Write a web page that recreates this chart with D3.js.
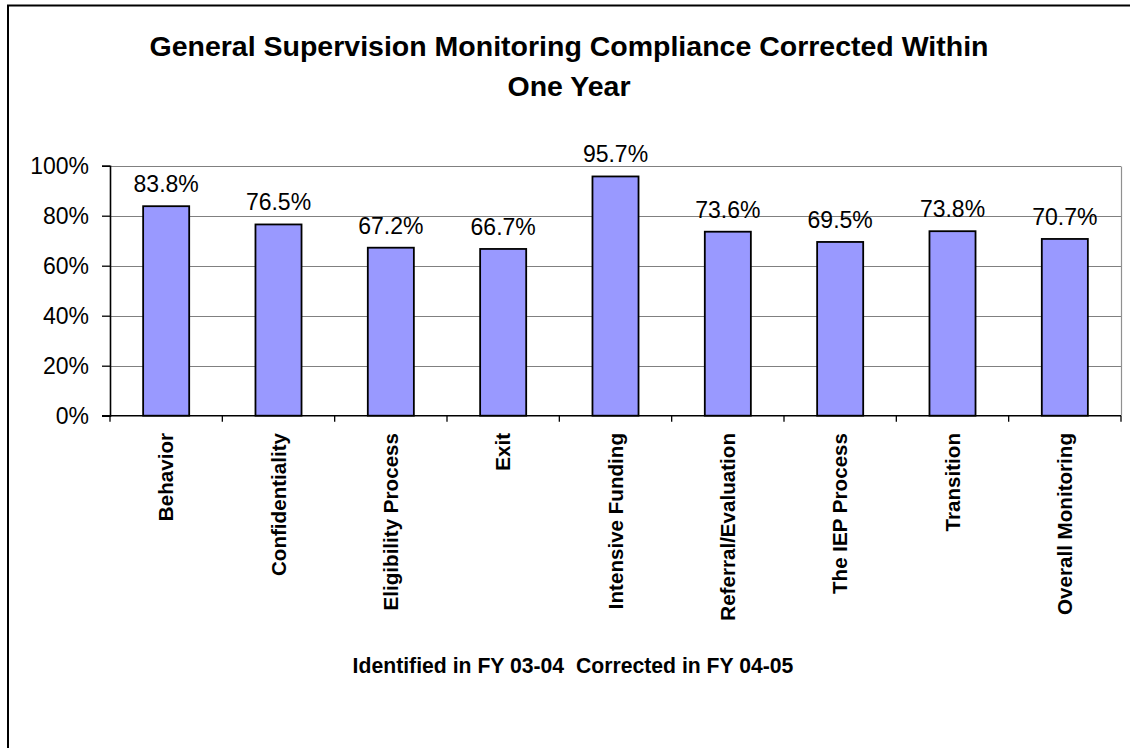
<!DOCTYPE html>
<html>
<head>
<meta charset="utf-8">
<script src="https://cdn.jsdelivr.net/npm/d3@7"></script>
<style>
  body { margin: 0; background: #fff; }
  svg { display: block; font-family: "Liberation Sans", Arial, sans-serif; }
</style>
</head>
<body>
<svg id="chart" width="1130" height="748"></svg>
<script>
// chart data
var categories = ["Behavior", "Confidentiality", "Eligibility Process", "Exit",
  "Intensive Funding", "Referral/Evaluation", "The IEP Process", "Transition",
  "Overall Monitoring"];
var values = [0.838, 0.765, 0.672, 0.667, 0.957, 0.736, 0.695, 0.738, 0.707];
var yTicks = [0, 0.2, 0.4, 0.6, 0.8, 1.0];
var titleLines = ["General Supervision Monitoring Compliance Corrected Within", "One Year"];
var xTitle = "Identified in FY 03-04  Corrected in FY 04-05";

var svg = d3.select("#chart");

// outer frame (only top and left edges show in the picture)
svg.append("rect")
  .attr("x", 8).attr("y", 5.5)
  .attr("width", 1140).attr("height", 760)
  .attr("fill", "none").attr("stroke", "#000").attr("stroke-width", 2);

var plotLeft = 110, plotRight = 1121, plotTop = 165.7, plotBottom = 415.7;

var x = d3.scaleBand().domain(categories).range([plotLeft, plotRight])
  .paddingInner(0.59).paddingOuter(0.295);
var xEdge = d3.scaleBand().domain(categories).range([plotLeft, plotRight]).padding(0);
var y = d3.scaleLinear().domain([0, 1]).range([plotBottom, plotTop]);
var pct = d3.format(".0%");

// title
svg.append("g").selectAll("text")
  .data(titleLines)
  .enter().append("text")
  .attr("x", 569)
  .attr("y", function (d, i) { return 56 + i * 40; })
  .attr("text-anchor", "middle")
  .attr("font-size", 28.5).attr("font-weight", "bold")
  .text(function (d) { return d; });

// gridlines
svg.append("g").selectAll("line")
  .data(yTicks.filter(function (t) { return t > 0; }))
  .enter().append("line")
  .attr("x1", plotLeft).attr("x2", plotRight)
  .attr("y1", function (d) { return Math.round(y(d)) + 0.5; })
  .attr("y2", function (d) { return Math.round(y(d)) + 0.5; })
  .attr("stroke", "#808080").attr("stroke-width", 1.2);

// plot border on the right
svg.append("line")
  .attr("x1", plotRight + 0.5).attr("x2", plotRight + 0.5)
  .attr("y1", Math.round(plotTop) + 0.5).attr("y2", plotBottom)
  .attr("stroke", "#909090").attr("stroke-width", 1.2);

// bars
svg.append("g").selectAll("rect")
  .data(values)
  .enter().append("rect")
  .attr("x", function (d, i) { return x(categories[i]); })
  .attr("y", function (d) { return y(d); })
  .attr("width", x.bandwidth())
  .attr("height", function (d) { return plotBottom - y(d); })
  .attr("fill", "#9999ff")
  .attr("stroke", "#000").attr("stroke-width", 1.8);

// value labels
svg.append("g").selectAll("text")
  .data(values)
  .enter().append("text")
  .attr("x", function (d, i) { return x(categories[i]) + x.bandwidth() / 2; })
  .attr("y", function (d) { return y(d) - 14; })
  .attr("text-anchor", "middle")
  .attr("font-size", 23)
  .text(function (d) { return d3.format(".1%")(d); });

// y axis
var yAxis = svg.append("g")
  .attr("transform", "translate(" + plotLeft + ",0)")
  .call(d3.axisLeft(y).tickValues(yTicks).tickFormat(pct).tickSize(8).tickPadding(13));
yAxis.select(".domain").attr("stroke", "#000").attr("stroke-width", 1.6);
yAxis.selectAll(".tick line").attr("stroke", "#000").attr("stroke-width", 1.3);
yAxis.selectAll(".tick text").attr("font-size", 23).attr("font-family", null).attr("fill", "#000");

// x axis line with ticks at category boundaries
svg.append("line")
  .attr("x1", plotLeft - 8).attr("x2", plotRight)
  .attr("y1", plotBottom).attr("y2", plotBottom)
  .attr("stroke", "#000").attr("stroke-width", 1.6);
var edges = categories.map(function (c) { return xEdge(c); }).concat([plotRight]);
svg.append("g").selectAll("line")
  .data(edges)
  .enter().append("line")
  .attr("x1", function (d) { return d; }).attr("x2", function (d) { return d; })
  .attr("y1", plotBottom).attr("y2", plotBottom + 6)
  .attr("stroke", "#000").attr("stroke-width", 1.3);

// category labels, rotated
svg.append("g").selectAll("text")
  .data(categories)
  .enter().append("text")
  .attr("transform", function (d) {
    return "translate(" + (xEdge(d) + xEdge.bandwidth() / 2 + 7) + "," + 433 + ") rotate(-90)";
  })
  .attr("text-anchor", "end")
  .attr("font-size", 20.6).attr("font-weight", "bold")
  .text(function (d) { return d; });

// x axis title
svg.append("text")
  .attr("x", 573).attr("y", 673)
  .attr("text-anchor", "middle")
  .attr("font-size", 21.2).attr("font-weight", "bold")
  .style("white-space", "pre")
  .text(xTitle);
</script>
</body>
</html>
